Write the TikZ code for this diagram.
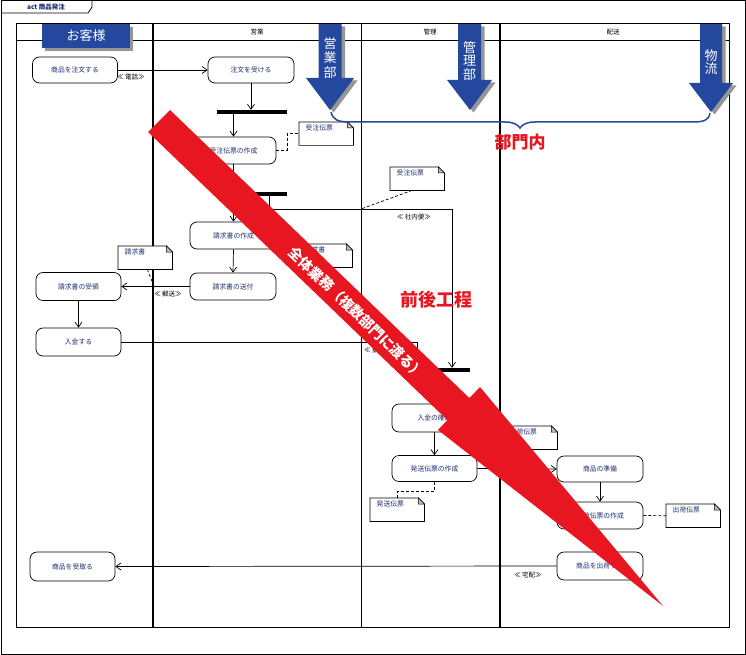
\documentclass[tikz,border=0pt]{standalone}
\usepackage{fontspec}
\setmainfont{Noto Sans CJK JP}
\usetikzlibrary{arrows.meta}
\definecolor{bandblue}{RGB}{35,72,158}
\definecolor{redband}{RGB}{232,22,32}
\definecolor{navytext}{RGB}{30,45,110}
\definecolor{shadowgray}{RGB}{150,150,150}
\definecolor{foldgray}{RGB}{190,190,190}
\tikzset{
  act/.style={draw, rounded corners=7pt, line width=0.7pt, minimum width=85pt, minimum height=27pt,
    font=\fontsize{6.8}{8}\selectfont, text=navytext, inner sep=0pt},
  flow/.style={line width=0.7pt, -{Straight Barb[length=5pt,width=7pt]}},
  plainline/.style={line width=0.7pt},
  barnode/.style={fill=black, minimum width=70pt, minimum height=4pt, inner sep=0pt},
  notenode/.style={minimum width=54pt, minimum height=23pt, inner sep=0pt},
  notetext/.style={font=\fontsize{6.8}{8}\selectfont, text=navytext, inner sep=0.5pt, anchor=north west},
  dashline/.style={line width=0.7pt, dash pattern=on 3pt off 2pt},
  flowlabel/.style={font=\fontsize{6.5}{7}\selectfont, inner sep=0pt},
  lanehead/.style={font=\fontsize{6.5}{7}\selectfont, inner sep=0pt},
  blueshape/.style={fill=bandblue},
  shadowshape/.style={fill=shadowgray},
  bluetext/.style={text=white, font=\fontsize{13}{14}\selectfont, align=center, inner sep=0pt},
  redtitle/.style={text=redband, font=\fontsize{17}{18}\selectfont\bfseries, inner sep=0pt},
}
\newcommand\mknote[4]{%
  \node[notenode, anchor=north west] (#1) at (#2,#3) {};
  \draw[line width=0.7pt, fill=white] (#1.north west) -- ([xshift=-6pt]#1.north east)
     -- ([yshift=-6pt]#1.north east) -- (#1.south east) -- (#1.south west) -- cycle;
  \filldraw[foldgray, draw=black, line width=0.5pt] ([xshift=-6pt]#1.north east) -- ([xshift=-6pt,yshift=-6pt]#1.north east)
     -- ([yshift=-6pt]#1.north east) -- cycle;
  \node[notetext] at ([xshift=6pt,yshift=-2pt]#1.north west) {#4};
}
\begin{document}
\begin{tikzpicture}[x=1pt,y=-1pt]
\useasboundingbox (0,0) rectangle (746,655);
\fill[white] (0,0) rectangle (746,655);
% outer frame and title tab
\draw[line width=1pt] (1,1) rectangle (745,654);
\draw[line width=0.8pt] (1,13) -- (88,13) -- (92,7) -- (92,1);
\node[font=\fontsize{6.5}{7}\selectfont\bfseries, inner sep=0pt, text=navytext] (title) at (46,7) {act 商品発注};

% swimlanes
\draw[line width=1pt] (16,24) rectangle (729,627);
\draw[line width=0.8pt] (16,40) -- (729,40);
\draw[line width=1.8pt] (153,24) -- (153,627);
\draw[line width=0.8pt] (361,24) -- (361,627);
\draw[line width=1.8pt] (500,24) -- (500,627);
\node[lanehead] (h2) at (257,32) {営業};
\node[lanehead] (h3) at (430,32) {管理};
\node[lanehead] (h4) at (613,32) {配送};

% banner
\fill[shadowgray] (45,27) rectangle (133,51);
\fill[bandblue] (42,24) rectangle (130,48);
\node[text=white, font=\fontsize{13}{14}\selectfont, inner sep=0pt] (cust) at (86,36) {お客様};

% activity nodes
\node[act, minimum height=26pt] (order) at (75,70) {商品を注文する};
\node[act, minimum width=86pt, minimum height=26pt] (accept) at (251,70) {注文を受ける};
\node[barnode] (bar1) at (252,112) {};
\node[act] (jutyu) at (233.5,150.5) {受注伝票の作成};
\node[barnode] (bar2) at (252,194) {};
\node[act, minimum width=87pt] (seikyu) at (233.5,235.5) {請求書の作成};
\node[act, minimum width=86pt] (soufu) at (233,286.5) {請求書の送付};
\node[act, minimum height=28pt] (juryo) at (78.5,286.5) {請求書の受領};
\node[act, minimum height=28pt] (nyukin) at (78.5,342) {入金する};
\node[act, minimum height=29pt] (uketoru) at (72.5,566.5) {商品を受取る};
\node[barnode, minimum width=54pt] (bar3) at (443,370) {};
\node[act, minimum height=28pt] (kakunin) at (434.5,418) {入金の確認};
\node[act, minimum height=26pt] (hasso) at (434.5,468.5) {発送伝票の作成};
\node[act, minimum width=86pt, minimum height=26pt] (junbi) at (600,469) {商品の準備};
\node[act, minimum width=86pt] (shukkaden) at (600,515.5) {出荷伝票の作成};
\node[act, minimum width=86pt, minimum height=28pt] (ship) at (600,566) {商品を出荷する};

% notes
\mknote{n1}{299}{122}{受注伝票}
\mknote{n2}{118}{246}{請求書}
\mknote{n3}{298}{244}{請求書}
\mknote{n4}{390}{167}{受注伝票}
\mknote{n5}{503}{426}{出荷伝票}
\mknote{n6}{370}{498}{発送伝票}
\mknote{n7}{666}{504}{出荷伝票}

% control / object flows
\draw[flow] (order.east) -- (accept.west);
\node[flowlabel] (lb1) at (131,77.5) {≪ 電話≫};
\draw[flow] (accept.south) -- (accept.south |- bar1.north);
\draw[flow] (jutyu.north |- bar1.south) -- (jutyu.north);
\draw[flow] (jutyu.south) -- (jutyu.south |- bar2.north);
\draw[flow] (seikyu.north |- bar2.south) -- (seikyu.north);
\draw[flow] (seikyu.south) -- (soufu.north);
\draw[flow] (soufu.west) -- (juryo.east);
\coordinate (yuso) at (154,286.5);
\node[flowlabel] (lb2) at (168,294) {≪ 郵送≫};
\draw[flow] (juryo.south) -- (nyukin.north);
\draw[flow] (nyukin.east) -| ([xshift=2pt]bar3.north west);
\node[flowlabel, anchor=west] (lb3) at (364,350) {≪ 振込≫};
\draw[flow] ([xshift=-18pt]bar2.south east) -- ++(0,13) -| ([xshift=9pt]bar3.north);
\node[flowlabel] (lb4) at (414,217) {≪ 社内便≫};
\draw[flow] (kakunin.north |- bar3.south) -- (kakunin.north);
\draw[flow] (kakunin.south) -- (hasso.north);
\draw[flow] (hasso.east) -- (junbi.west);
\draw[flow] (junbi.south) -- (shukkaden.north);
\draw[flow] (ship.west) -- (uketoru.east);
\node[flowlabel] (lb5) at (528,575) {≪ 宅配≫};

% note connectors
\draw[dashline] (jutyu.east) -- ++(11,0) |- (n1.west);
\draw[dashline] ([xshift=-25pt]n2.south east) -- (yuso);
\draw[dashline] ([xshift=22pt]n4.south west) -- (361,209);
\draw[dashline] (hasso.south) -- ++(0,9) -| (n6.north);
\draw[dashline] (shukkaden.east) -- (n7.west);

% blue department arrows
\fill[shadowgray, shift={(3.5,2.5)}] (318.5,24) -- (341.5,24) -- (341.5,78) -- (354,78) -- (330,110) -- (306,78) -- (318.5,78) -- cycle;
\fill[bandblue] (318.5,24) -- (341.5,24) -- (341.5,78) -- (354,78) -- (330,110) -- (306,78) -- (318.5,78) -- cycle;
\node[bluetext, font=\fontsize{13}{14.5}\selectfont] (a1) at (330,58) {営\\業\\部};
\fill[shadowgray, shift={(3.5,2.5)}] (458,24) -- (481,24) -- (481,80) -- (492,80) -- (470,110) -- (447,80) -- (458,80) -- cycle;
\fill[bandblue] (458,24) -- (481,24) -- (481,80) -- (492,80) -- (470,110) -- (447,80) -- (458,80) -- cycle;
\node[bluetext, font=\fontsize{13}{13.5}\selectfont] (a2) at (469.5,61) {管\\理\\部};
\fill[shadowgray, shift={(3.5,2.5)}] (700,24) -- (722,24) -- (722,83) -- (733,83) -- (711,112) -- (689,83) -- (700,83) -- cycle;
\fill[bandblue] (700,24) -- (722,24) -- (722,83) -- (733,83) -- (711,112) -- (689,83) -- (700,83) -- cycle;
\node[bluetext, font=\fontsize{13}{13}\selectfont] (a3) at (711,62) {物\\流};

% brace
\draw[bandblue, line width=1.5pt] (331,112) .. controls (333,120) and (338,122) .. (350,122) -- (505,122)
   .. controls (514,122) and (518,125) .. (520,128) .. controls (522,125) and (526,122) .. (535,122)
   -- (693,122) .. controls (704,122) and (709,120) .. (710,113);
\node[redtitle] (bumon) at (520,142) {部門内};
\node[redtitle, font=\fontsize{18}{19}\selectfont\bfseries] (zengo) at (436,300) {前後工程};

% big red arrow
\fill[redband] (148,132) -- (447.4,420.1) -- (438,430) -- (663,606) -- (480,387) -- (469.4,398.1) -- (170,110) -- cycle;
\node[rotate=-43.9, text=white, font=\fontsize{14}{14}\selectfont\bfseries, inner sep=0pt] (zentai) at (357,313) {全体業務（複数部門に渡る）};
\end{tikzpicture}
\end{document}
